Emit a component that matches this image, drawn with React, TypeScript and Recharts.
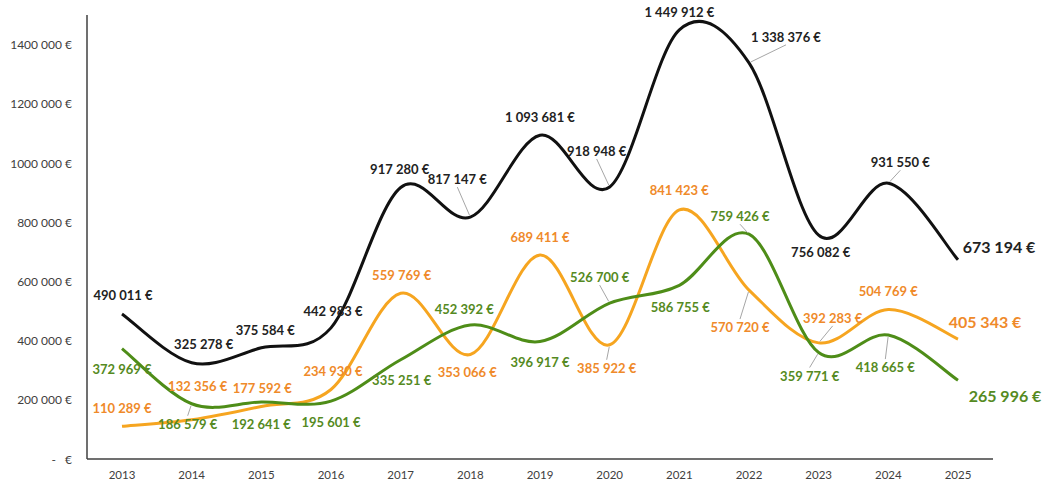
import React from 'react';
import { LineChart, Line, XAxis, YAxis, LabelList } from 'recharts';

const years = ['2013', '2014', '2015', '2016', '2017', '2018', '2019', '2020', '2021', '2022', '2023', '2024', '2025'];
const blackValues = [490011, 325278, 375584, 442983, 917280, 817147, 1093681, 918948, 1449912, 1338376, 756082, 931550, 673194];
const orangeValues = [110289, 132356, 177592, 234930, 559769, 353066, 689411, 385922, 841423, 570720, 392283, 504769, 405343];
const greenValues = [372969, 186579, 192641, 195601, 335251, 452392, 396917, 526700, 586755, 759426, 359771, 418665, 265996];
const yTicks = [0, 200000, 400000, 600000, 800000, 1000000, 1200000, 1400000];

// label placement (offset of label center from point) and leader flags
const blackOffsets: [number, number][] = [[1, -19], [12, -19], [4, -18], [2, -17], [-1, -18], [-13, -38], [0, -18], [-13, -36], [0, -18], [37, -26], [2, 17], [12, -21], [41, -13]];
const blackLeaders = [false, false, false, false, false, true, false, true, false, true, false, true, false];
const orangeOffsets: [number, number][] = [[0, -18], [6, -34], [1, -18], [2, -18], [1, -18], [-3, 18], [0, -18], [-3, 23], [0, -20], [-9, 37], [14, -25], [0, -19], [27, -18]];
const orangeLeaders = [false, false, false, false, false, false, false, true, false, true, true, false, false];
const greenOffsets: [number, number][] = [[0, 20], [-4, 20], [0, 22], [0, 21], [1, 20], [-6, -16], [0, 20], [-10, -26], [1, 22], [-9, -18], [-9, 23], [-3, 32], [47, 15]];
const greenLeaders = [false, true, false, false, false, false, false, true, false, true, true, true, false];

const data = years.map((year, i) => ({
  year,
  black: blackValues[i],
  orange: orangeValues[i],
  green: greenValues[i],
}));

const FONT = 'Lato, "Open Sans", sans-serif';

function catmullRom(context: any) {
  let pts: [number, number][] = [];
  return {
    areaStart() {},
    areaEnd() {},
    lineStart() {
      pts = [];
    },
    lineEnd() {
      const n = pts.length;
      if (!n) return;
      context.moveTo(pts[0][0], pts[0][1]);
      for (let i = 0; i < n - 1; i++) {
        const p0 = pts[i - 1] || pts[i];
        const p1 = pts[i];
        const p2 = pts[i + 1];
        const p3 = pts[i + 2] || p2;
        const t = 1 / 6;
        context.bezierCurveTo(
          p1[0] + (p2[0] - p0[0]) * t,
          p1[1] + (p2[1] - p0[1]) * t,
          p2[0] - (p3[0] - p1[0]) * t,
          p2[1] - (p3[1] - p1[1]) * t,
          p2[0],
          p2[1]
        );
      }
    },
    point(x: number, y: number) {
      pts.push([+x, +y]);
    },
  };
}

const fmtLabel = (v: number) => String(v).replace(/\B(?=(\d{3})+(?!\d))/g, ' ') + ' €';

const fmtTick = (v: number) => `${Math.floor(v / 1000)} ${String(v % 1000).padStart(3, '0')} €`;

const makeLabel = (offsets: [number, number][], leaders: boolean[], color: string) => (props: any) => {
  const { x, y, value, index } = props;
  if (x == null || y == null) return null;
  const [dx, dy] = offsets[index];
  const last = index === offsets.length - 1;
  const lx = x + dx;
  const ly = y + dy;
  let leader = null;
  if (leaders[index]) {
    const sy = dy < 0 ? ly + 8 : ly - 8;
    const len = Math.hypot(x - lx, y - sy) || 1;
    const ex = x - ((x - lx) / len) * 2;
    const ey = y - ((y - sy) / len) * 2;
    leader = <line x1={lx} y1={sy} x2={ex} y2={ey} stroke="#a6a6a6" strokeWidth={1} />;
  }
  return (
    <g>
      {leader}
      <text
        x={lx}
        y={ly}
        textAnchor="middle"
        dominantBaseline="central"
        fontFamily={FONT}
        fontWeight={700}
        fontSize={last ? 16 : 13}
        fill={color}
      >
        {fmtLabel(value)}
      </text>
    </g>
  );
};

const YTick = (props: any) => {
  const { x, y, payload } = props;
  const v = payload.value;
  if (v === 0) {
    return (
      <g fontFamily={FONT} fontSize={12} fill="#404040">
        <text x={x - 16} y={y} textAnchor="end" dominantBaseline="central">-</text>
        <text x={x} y={y} textAnchor="end" dominantBaseline="central">€</text>
      </g>
    );
  }
  return (
    <text x={x} y={y} textAnchor="end" dominantBaseline="central" fontFamily={FONT} fontSize={12} fill="#404040">
      {fmtTick(v)}
    </text>
  );
};

export default function App() {
  return (
    <div style={{ position: 'absolute', left: 0, top: 0, background: '#fff' }}>
      <LineChart width={1045} height={486} data={data} margin={{ top: 15, right: 52, bottom: 0, left: 0 }}>
        <XAxis
          dataKey="year"
          padding={{ left: 35, right: 35 }}
          height={27}
          axisLine={{ stroke: '#404040', strokeWidth: 1.5 }}
          tickLine={false}
          tickSize={0}
          tickMargin={12}
          tick={{ fontFamily: FONT, fontSize: 11.5, fill: '#404040' }}
        />
        <YAxis
          width={87}
          domain={[0, 1500000]}
          ticks={yTicks}
          allowDataOverflow
          axisLine={{ stroke: '#404040', strokeWidth: 1.5 }}
          tickLine={false}
          tickSize={0}
          tickMargin={15}
          tick={<YTick />}
        />
        <Line dataKey="black" type={catmullRom as any} stroke="#111111" strokeWidth={3} dot={false} isAnimationActive={false}>
          <LabelList dataKey="black" content={makeLabel(blackOffsets, blackLeaders, '#222222')} />
        </Line>
        <Line dataKey="orange" type={catmullRom as any} stroke="#F6A520" strokeWidth={3} dot={false} isAnimationActive={false}>
          <LabelList dataKey="orange" content={makeLabel(orangeOffsets, orangeLeaders, '#EF8A2A')} />
        </Line>
        <Line dataKey="green" type={catmullRom as any} stroke="#4E8D18" strokeWidth={3} dot={false} isAnimationActive={false}>
          <LabelList dataKey="green" content={makeLabel(greenOffsets, greenLeaders, '#558A22')} />
        </Line>
      </LineChart>
    </div>
  );
}
